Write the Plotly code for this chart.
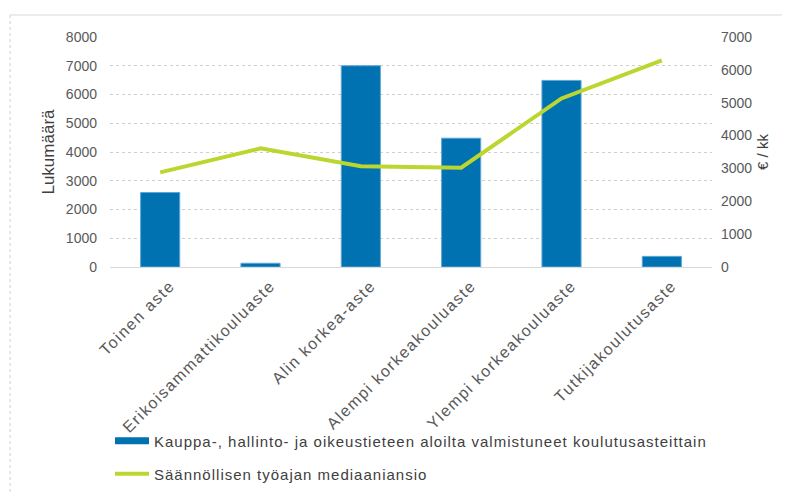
import plotly.graph_objects as go

categories = ["Toinen aste", "Erikoisammattikouluaste", "Alin korkea-aste",
              "Alempi korkeakouluaste", "Ylempi korkeakouluaste", "Tutkijakoulutusaste"]
graduates = [2590, 130, 7000, 4480, 6490, 370]
median_income = [2880, 3610, 3070, 3020, 5130, 6290]
bar_name = "Kauppa-, hallinto- ja oikeustieteen aloilta valmistuneet koulutusasteittain"
line_name = "Säännöllisen työajan mediaaniansio"

BLUE = "#0071b1"
GREEN = "#bcd630"
GRAY = "#595959"
FONT = "Liberation Sans, Arial, sans-serif"


def spaced(text, px):
    return f'<span style="letter-spacing:{px}px">{text}</span>'


fig = go.Figure()
fig.add_trace(go.Bar(
    x=categories, y=graduates, name=bar_name, width=0.39,
    marker=dict(color=BLUE, line=dict(color="#5ea6d8", width=1)),
    showlegend=False, yaxis="y"))
fig.add_trace(go.Scatter(
    x=categories, y=median_income, name=line_name, mode="lines",
    line=dict(color=GREEN, width=4), showlegend=False, yaxis="y2"))
# legend entries
fig.add_trace(go.Scatter(x=[None], y=[None], mode="lines", name=spaced(bar_name, 1),
                         line=dict(color=BLUE, width=7), legend="legend"))
fig.add_trace(go.Scatter(x=[None], y=[None], mode="lines", name=spaced(line_name, 1),
                         line=dict(color=GREEN, width=4), legend="legend2"))

fig.update_layout(
    width=790, height=495,
    margin=dict(l=102, r=86, t=29, b=236),
    paper_bgcolor="white", plot_bgcolor="white",
    font=dict(family=FONT, size=14, color=GRAY),
    xaxis=dict(showgrid=False, showline=True, linecolor="#d9d9d9", linewidth=1,
               tickangle=-45, ticks="", automargin=False,
               tickmode="array", tickvals=categories,
               ticktext=[spaced(c, 1.5) for c in categories],
               ticklabelshift=10, ticklabelstandoff=2,
               tickfont=dict(size=16, color=GRAY)),
    yaxis=dict(range=[0, 8000], dtick=1000, showgrid=True, gridcolor="#cfcfcf",
               griddash="dot", gridwidth=1, zeroline=False, ticks="",
               ticklabelstandoff=12, automargin=False,
               title=dict(text="Lukumäärä", font=dict(size=17, color="#404040"), standoff=6),
               tickfont=dict(size=14, color=GRAY)),
    yaxis2=dict(range=[0, 7000], dtick=1000, overlaying="y", side="right",
                showgrid=False, zeroline=False, ticks="", ticklabelstandoff=8,
                automargin=False,
                title=dict(text="€ / kk", font=dict(size=15, color="#404040"), standoff=6),
                tickfont=dict(size=14, color=GRAY)),
    legend=dict(x=0.0, y=-0.7565, xanchor="left", yanchor="middle", itemwidth=34,
                font=dict(size=15, color="#404040"), bgcolor="rgba(0,0,0,0)"),
    legend2=dict(x=0.0, y=-0.9, xanchor="left", yanchor="middle", itemwidth=34,
                 font=dict(size=15, color="#404040"), bgcolor="rgba(0,0,0,0)"),
    shapes=[
        dict(type="line", xref="paper", yref="paper", x0=-0.166, x1=1.2, y0=1.0957, y1=1.0957,
             line=dict(color="#d9d9d9", width=1)),
        dict(type="line", xref="paper", yref="paper", x0=-0.166, x1=-0.166, y0=1.0957, y1=-1.2,
             line=dict(color="#d0d0d0", width=1, dash="dot")),
    ],
)

fig.write_html("out.html")
